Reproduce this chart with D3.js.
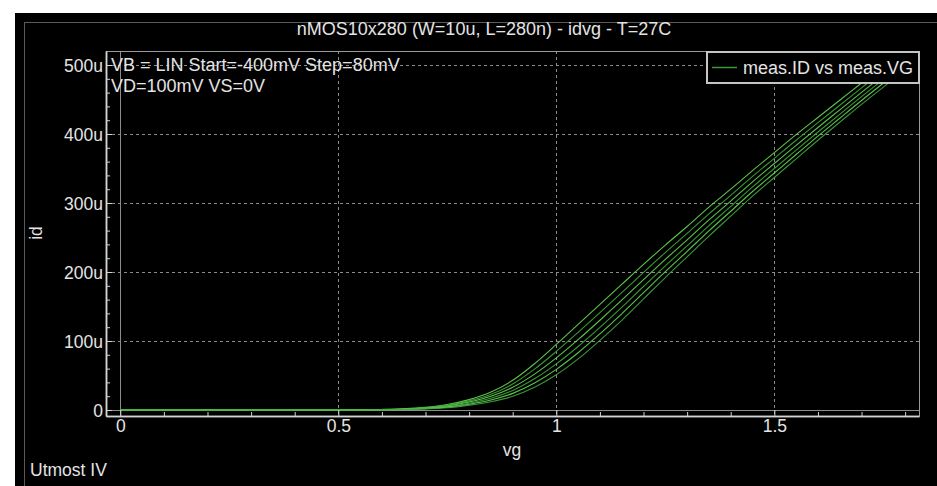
<!DOCTYPE html>
<html>
<head>
<meta charset="utf-8">
<script src="https://cdn.jsdelivr.net/npm/d3@7"></script>
<style>
  html, body { margin: 0; padding: 0; background: #ffffff; }
  svg { display: block; }
  text { font-family: "Liberation Sans", Arial, sans-serif; fill: #e4e4e4; }
</style>
</head>
<body>
<svg id="chart" width="937" height="486"></svg>
<script>
// Gate voltage sweep (V)
const vgValues = [0, 0.1, 0.2, 0.3, 0.4, 0.5, 0.55, 0.6, 0.65, 0.7, 0.75, 0.8, 0.85, 0.9, 0.95,
  1.0, 1.05, 1.1, 1.15, 1.2, 1.25, 1.3, 1.35, 1.4, 1.45, 1.5, 1.55, 1.6, 1.65, 1.7, 1.75, 1.8];

// Drain current (uA), one curve per bulk voltage step
const vbSteps = ["0V", "-80mV", "-160mV", "-240mV", "-320mV", "-400mV"];
const idVb0 = [0, 0, 0, 0, 0, 0.1, 0.3, 0.8, 1.8, 3.9, 8, 15, 26, 43, 67,
  95, 124, 153, 182, 211, 239, 266, 294, 320, 347, 373, 399, 424, 449, 474, 499, 523];
const idVb1 = [0, 0, 0, 0, 0, 0.08, 0.25, 0.69, 1.55, 3.4, 6.9, 13.2, 22.8, 37.7, 59.2,
  84.9, 112.5, 141, 170, 199.5, 228.2, 255.9, 284.3, 311, 338.5, 364.7, 391, 416.4, 441.6, 466.9, 491.9, 516.1];
const idVb2 = [0, 0, 0, 0, 0, 0.06, 0.21, 0.58, 1.32, 2.9, 5.9, 11.5, 19.8, 32.9, 52.0,
  75.6, 102, 130.1, 159.1, 189, 218.3, 246.6, 275.5, 302.8, 330.7, 357.2, 383.6, 409.5, 434.9, 460.4, 485.4, 509.8];
const idVb3 = [0, 0, 0, 0, 0, 0.04, 0.17, 0.48, 1.1, 2.45, 4.9, 9.9, 17.0, 28.3, 45.2,
  66.8, 92, 119.7, 148.7, 179, 208.9, 237.8, 267.1, 295, 323.3, 350, 376.6, 402.9, 428.5, 454.2, 479.2, 503.8];
const idVb4 = [0, 0, 0, 0, 0, 0.02, 0.14, 0.39, 0.9, 2.05, 4.1, 8.4, 14.5, 24.1, 39.1,
  58.9, 83, 110.4, 139.4, 170, 200.5, 229.9, 259.6, 288, 316.7, 343.5, 370.3, 396.9, 422.8, 448.6, 473.6, 498.4];
const idVb5 = [0, 0, 0, 0, 0, 0, 0.1, 0.3, 0.7, 1.6, 3.2, 7, 12, 20, 33,
  51, 74, 101, 130, 161, 192, 222, 252, 281, 310, 337, 364, 391, 417, 443, 468, 493];
const idSeries = [idVb0, idVb1, idVb2, idVb3, idVb4, idVb5];

// Axis ticks
const xMajorTicks = [0, 0.5, 1, 1.5];
const xMinorTicks = [0.1, 0.2, 0.3, 0.4, 0.6, 0.7, 0.8, 0.9, 1.1, 1.2, 1.3, 1.4, 1.6, 1.7, 1.8];
const yMajorTicks = [0, 100, 200, 300, 400, 500];
const yMinorTicks = [20, 40, 60, 80, 120, 140, 160, 180, 220, 240, 260, 280, 320, 340, 360, 380, 420, 440, 460, 480];

const titleText = "nMOS10x280 (W=10u, L=280n) - idvg - T=27C";
const noteLines = ["VB = LIN Start=-400mV Step=80mV", "VD=100mV VS=0V"];
const legendLabel = "meas.ID vs meas.VG";

const svg = d3.select("#chart");
const W = 937, H = 486;
const plot = { left: 106, right: 919, top: 51, bottom: 416 };

const x = d3.scaleLinear().domain([-0.0328, 1.8318]).range([plot.left, plot.right]);
const y = d3.scaleLinear().domain([-8.7, 520.3]).range([plot.bottom, plot.top]);

// Window background and inner frame
svg.append("rect").attr("x", 15).attr("y", 13).attr("width", W - 15).attr("height", H - 13).attr("fill", "#000");
svg.append("rect").attr("x", 24.5).attr("y", 22.5).attr("width", W).attr("height", H)
  .attr("fill", "none").attr("stroke", "#5a5a5a").attr("stroke-width", 1);

// Title
svg.append("text").attr("x", 484).attr("y", 35).attr("text-anchor", "middle")
  .attr("font-size", 18).text(titleText);

// Dashed grid
const grid = svg.append("g").attr("stroke", "#8c8c8c").attr("stroke-width", 1).attr("stroke-dasharray", "3,3");
grid.selectAll("line.gx").data(xMajorTicks.filter(d => d !== 0)).join("line")
  .attr("x1", d => Math.round(x(d)) + 0.5).attr("x2", d => Math.round(x(d)) + 0.5)
  .attr("y1", plot.top).attr("y2", plot.bottom);
grid.selectAll("line.gy").data(yMajorTicks.filter(d => d !== 0)).join("line")
  .attr("y1", d => Math.round(y(d)) + 0.5).attr("y2", d => Math.round(y(d)) + 0.5)
  .attr("x1", plot.left).attr("x2", plot.right);

// Solid zero lines
svg.append("line").attr("x1", Math.round(x(0)) + 0.5).attr("x2", Math.round(x(0)) + 0.5)
  .attr("y1", plot.top).attr("y2", plot.bottom).attr("stroke", "#8c8c8c");
svg.append("line").attr("y1", Math.round(y(0)) + 0.5).attr("y2", Math.round(y(0)) + 0.5)
  .attr("x1", plot.left).attr("x2", plot.right).attr("stroke", "#8c8c8c");

// Plot frame (top / right)
svg.append("line").attr("x1", plot.left).attr("x2", plot.right + 0.5).attr("y1", plot.top + 0.5).attr("y2", plot.top + 0.5).attr("stroke", "#9a9a9a");
svg.append("line").attr("x1", plot.right + 0.5).attr("x2", plot.right + 0.5).attr("y1", plot.top).attr("y2", plot.bottom).attr("stroke", "#9a9a9a");

// Curves
svg.append("clipPath").attr("id", "plotClip").append("rect")
  .attr("x", plot.left).attr("y", plot.top).attr("width", plot.right - plot.left).attr("height", plot.bottom - plot.top);
const line = d3.line().x((d, i) => x(vgValues[i])).y(d => y(d)).curve(d3.curveMonotoneX);
const curveColors = ["#66d850", "#40a640", "#66d850", "#40a640", "#66d850", "#40a640"];
svg.append("g").attr("clip-path", "url(#plotClip)")
  .selectAll("path").data(idSeries).join("path")
  .attr("d", d => line(d))
  .attr("fill", "none")
  .attr("stroke", (d, i) => curveColors[i])
  .attr("stroke-opacity", 0.9)
  .attr("stroke-width", 1.1);

// Axes
const axisColor = "#d4d4d4";
const xAxis = svg.append("g").attr("transform", `translate(0,${plot.bottom})`)
  .call(d3.axisBottom(x).tickValues(xMajorTicks).tickSizeInner(-6).tickSizeOuter(0).tickPadding(4)
    .tickFormat(d => String(d)));
const xMinor = svg.append("g").attr("transform", `translate(0,${plot.bottom})`)
  .call(d3.axisBottom(x).tickValues(xMinorTicks).tickSizeInner(-4).tickSizeOuter(0).tickFormat(""));
const yAxis = svg.append("g").attr("transform", `translate(${plot.left},0)`)
  .call(d3.axisLeft(y).tickValues(yMajorTicks).tickSizeInner(-6).tickSizeOuter(0).tickPadding(3)
    .tickFormat(d => d === 0 ? "0" : d + "u"));
const yMinor = svg.append("g").attr("transform", `translate(${plot.left},0)`)
  .call(d3.axisLeft(y).tickValues(yMinorTicks).tickSizeInner(-4).tickSizeOuter(0).tickFormat(""));
[xAxis, xMinor, yAxis, yMinor].forEach(g => {
  g.select(".domain").attr("stroke", axisColor).attr("stroke-width", 1.5);
  g.selectAll(".tick line").attr("stroke", axisColor);
  g.selectAll(".tick text").attr("fill", "#e4e4e4").attr("font-size", 17.5)
    .attr("font-family", "'Liberation Sans', Arial, sans-serif");
});
yAxis.selectAll(".tick text").attr("dy", "0.36em");

// Axis titles
svg.append("text").attr("x", 512).attr("y", 456).attr("text-anchor", "middle").attr("font-size", 17.5).text("vg");
svg.append("text").attr("transform", "translate(42,233) rotate(-90)").attr("text-anchor", "middle")
  .attr("font-size", 17.5).text("id");

// Sweep annotation
svg.append("g").selectAll("text").data(noteLines).join("text")
  .attr("x", 111).attr("y", (d, i) => 71 + i * 21).attr("font-size", 18).text(d => d);

// Legend
const lg = svg.append("g");
lg.append("rect").attr("x", 707).attr("y", 52).attr("width", 212).attr("height", 31)
  .attr("fill", "#000").attr("stroke", "#c4c4c4").attr("stroke-width", 2);
lg.append("line").attr("x1", 712).attr("x2", 737).attr("y1", 67.5).attr("y2", 67.5)
  .attr("stroke", "#3a9a3a").attr("stroke-width", 1.5);
lg.append("text").attr("x", 743).attr("y", 74).attr("font-size", 18).text(legendLabel);

// Footer
svg.append("text").attr("x", 30).attr("y", 476).attr("font-size", 17.5).text("Utmost IV");
</script>
</body>
</html>
